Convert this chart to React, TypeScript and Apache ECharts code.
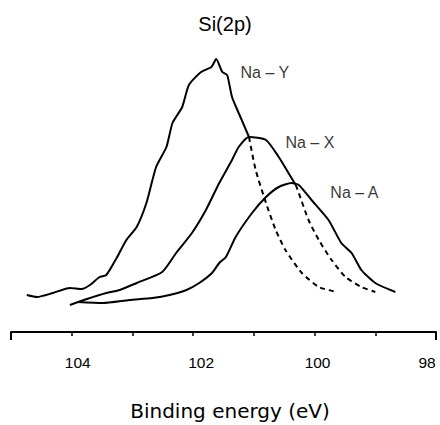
import React, { useEffect, useRef } from "react";
import * as echarts from "echarts";

// Binding energy (eV) vs intensity (a.u.)
const naYSolid: [number, number][] = [
  [104.74, 37], [104.57, 35], [104.31, 39], [104.03, 44], [103.84, 43], [103.7, 47],
  [103.54, 55], [103.43, 57], [103.26, 74], [103.1, 92], [102.93, 105], [102.77, 129],
  [102.61, 165], [102.44, 185], [102.34, 209], [102.18, 225], [102.07, 247], [101.87, 260],
  [101.7, 265], [101.62, 273], [101.52, 260], [101.44, 257], [101.36, 235], [101.25, 219],
  [101.2, 212], [101.08, 195],
];
const naYDash: [number, number][] = [
  [101.08, 195], [100.97, 162], [100.8, 129], [100.64, 102], [100.48, 82], [100.21, 59],
  [99.93, 45], [99.64, 40],
];
const naXSolid: [number, number][] = [
  [104.03, 27], [103.75, 33], [103.43, 39], [103.21, 42], [102.93, 49], [102.51, 60],
  [102.28, 79], [102.02, 99], [101.79, 122], [101.57, 149], [101.36, 172], [101.25, 185],
  [101.08, 195], [100.8, 192], [100.59, 175], [100.43, 159], [100.31, 147],
];
const naXDash: [number, number][] = [
  [100.31, 147], [100.26, 139], [100.1, 112], [99.93, 92], [99.72, 72], [99.49, 55],
  [99.23, 45], [99.0, 40],
];
const naA: [number, number][] = [
  [103.9, 30], [103.49, 29], [103.05, 32], [102.67, 34], [102.39, 37], [102.11, 42],
  [101.9, 49], [101.69, 59], [101.57, 69], [101.46, 75], [101.3, 95], [101.03, 119],
  [100.8, 135], [100.59, 145], [100.38, 149], [100.26, 147], [100.05, 132], [99.77, 112],
  [99.56, 89], [99.39, 79], [99.23, 62], [99.0, 49], [98.67, 40],
];
const curveLabels: [number, number, string][] = [
  [101.22, 260, "Na – Y"],
  [100.48, 190, "Na – X"],
  [99.74, 140, "Na – A"],
];
const labeledTicks: Record<number, string> = { 104: "a", 102: "b", 100: "c", 98: "d" };

const FONT = "'Liberation Sans', Arial, sans-serif";

export default function App() {
  const ref = useRef<HTMLDivElement>(null);
  useEffect(() => {
    const chart = echarts.init(ref.current!, null, { renderer: "svg" });
    const solid = (data: [number, number][]) => ({
      type: "line",
      data,
      symbol: "none",
      smooth: 0.2,
      lineStyle: { color: "#000", width: 2 },
      silent: true,
    });
    const dashed = (data: [number, number][]) => ({
      type: "line",
      data,
      symbol: "none",
      smooth: 0.2,
      lineStyle: { color: "#000", width: 2, type: [5, 4] },
      silent: true,
    });
    const tickFont = { fontFamily: FONT, fontSize: 15.5, color: "#000" };
    chart.setOption({
      animation: false,
      title: [
        {
          text: "Si(2p)",
          left: 225,
          top: 14,
          padding: 0,
          textAlign: "center",
          textStyle: { fontFamily: FONT, fontSize: 20, fontWeight: "normal", color: "#000" },
        },
        {
          text: "Binding energy (eV)",
          left: 230,
          top: 401,
          padding: 0,
          textAlign: "center",
          textStyle: { fontFamily: "'DejaVu Sans', sans-serif", fontSize: 20, fontWeight: "normal", color: "#000" },
        },
      ],
      grid: { left: 11, right: 4, top: 0, bottom: 93 },
      xAxis: [
        {
          type: "value",
          inverse: true,
          min: 98,
          max: 105,
          interval: 1,
          axisLine: { lineStyle: { color: "#000", width: 2 } },
          axisTick: { show: true, length: 4, lineStyle: { color: "#000", width: 1.5 } },
          axisLabel: {
            margin: 22,
            ...tickFont,
            formatter: (v: number) => (labeledTicks[v] ? `{${labeledTicks[v]}|${v}}` : ""),
            rich: {
              a: { ...tickFont, padding: [0, 0, 0, 12] },
              b: { ...tickFont, padding: [0, 0, 0, 16] },
              c: { ...tickFont, padding: [0, 0, 0, 6] },
              d: { ...tickFont, padding: [0, 18, 0, 0] },
            },
          },
          splitLine: { show: false },
        },
        {
          type: "value",
          inverse: true,
          position: "bottom",
          min: 98,
          max: 105,
          interval: 7,
          axisLine: { show: false },
          axisTick: { show: true, length: 8, lineStyle: { color: "#000", width: 2 } },
          axisLabel: { show: false },
          splitLine: { show: false },
        },
      ],
      yAxis: { type: "value", min: 0, max: 332, show: false },
      series: [
        solid(naYSolid),
        dashed(naYDash),
        solid(naXSolid),
        dashed(naXDash),
        solid(naA),
        {
          type: "scatter",
          data: curveLabels,
          symbolSize: 0,
          silent: true,
          label: {
            show: true,
            position: "right",
            distance: 0,
            formatter: (p: any) => p.data[2],
            fontFamily: FONT,
            fontSize: 16,
            color: "#000",
          },
        },
      ],
    });
    return () => chart.dispose();
  }, []);
  return (
    <div
      ref={ref}
      style={{ position: "absolute", left: 0, top: 0, width: 440, height: 425 }}
    />
  );
}
